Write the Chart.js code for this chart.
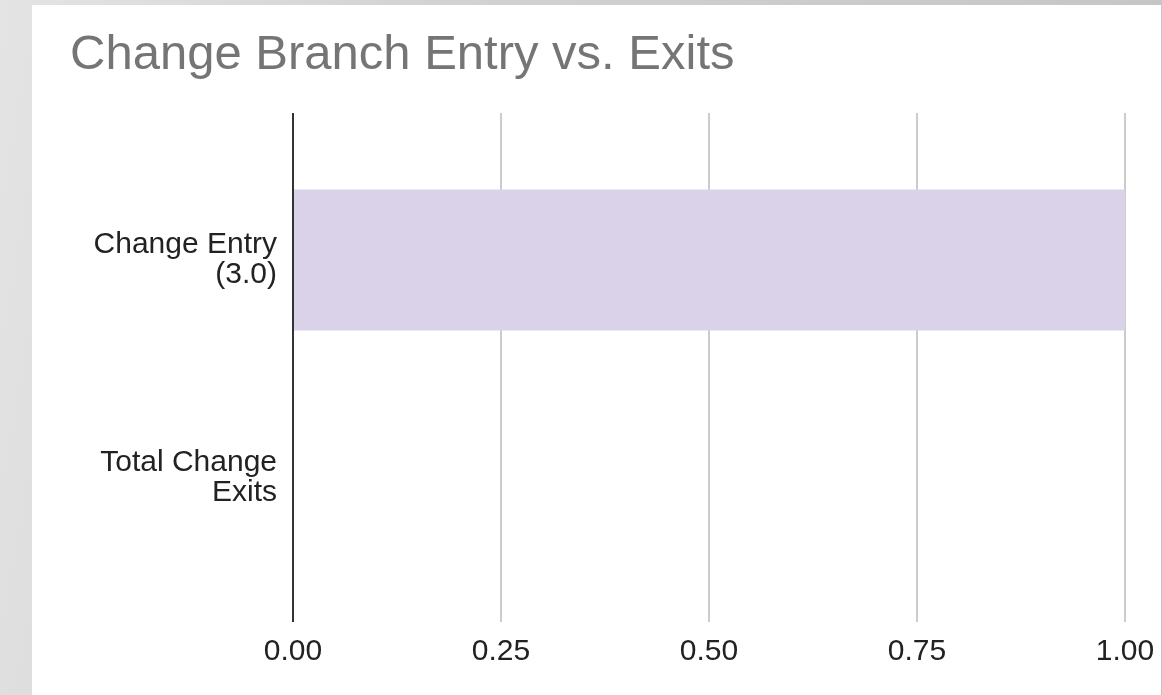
<!DOCTYPE html>
<html>
<head>
<meta charset="utf-8">
<script src="https://cdn.jsdelivr.net/npm/chart.js@4.4.0/dist/chart.umd.min.js"></script>
<style>
    html, body {
        margin: 0;
        padding: 0;
        width: 1162px;
        height: 695px;
        overflow: hidden;
        background: linear-gradient(100deg, #e4e4e4 0%, #d2d2d2 35%, #c4c4c4 100%);
    }
    #panel {
        position: absolute;
        left: 32px;
        top: 5px;
        width: 1129px;
        height: 690px;
        background: #ffffff;
    }
</style>
</head>
<body>
<div id="panel"><canvas id="branchChart"></canvas></div>
<script>
const chartTitle = 'Change Branch Entry vs. Exits';
const categories = [['Change Entry', '(3.0)'], ['Total Change', 'Exits']];
const values = [1, 0];
const xTicks = [0, 0.25, 0.5, 0.75, 1];

document.addEventListener('DOMContentLoaded', function() {
    const fontFamily = 'Arial, "Liberation Sans", sans-serif';
    const gridColor = ctx => (ctx.tick && ctx.tick.value === 0) ? '#333333' : '#cccccc';

    // fixed sizes so the plot area lines up with the picture
    function fitX(height) {
        return scale => {
            scale.height = height;
            scale.paddingLeft = 0;
            scale.paddingRight = 0;
        };
    }

    const ctx = document.getElementById('branchChart').getContext('2d');
    new Chart(ctx, {
        type: 'bar',
        data: {
            labels: categories,
            datasets: [{
                data: values,
                backgroundColor: '#d9d2e9',
                borderWidth: 0,
                categoryPercentage: 1,
                barPercentage: 0.647
            }]
        },
        options: {
            indexAxis: 'y',
            responsive: true,
            maintainAspectRatio: false,
            animation: false,
            layout: { padding: { left: 38, right: 36, top: 0, bottom: 0 } },
            plugins: {
                legend: { display: false },
                tooltip: { enabled: false },
                title: {
                    display: true,
                    text: chartTitle,
                    align: 'start',
                    color: '#757575',
                    font: { family: fontFamily, size: 49, weight: 'normal' },
                    padding: { top: 21, bottom: 28.2 }
                }
            },
            scales: {
                x: {
                    position: 'bottom',
                    min: 0,
                    max: 1,
                    afterBuildTicks: scale => { scale.ticks = xTicks.map(v => ({ value: v })); },
                    afterFit: fitX(108),
                    grid: { color: gridColor, lineWidth: 2, tickLength: 35 },
                    border: { display: false },
                    ticks: {
                        color: '#222222',
                        padding: 12,
                        font: { family: fontFamily, size: 30 },
                        callback: v => Number(v).toFixed(2)
                    }
                },
                xTop: {
                    type: 'linear',
                    axis: 'x',
                    position: 'top',
                    min: 0,
                    max: 1,
                    afterBuildTicks: scale => { scale.ticks = xTicks.map(v => ({ value: v })); },
                    afterFit: fitX(38),
                    grid: { color: gridColor, lineWidth: 2, tickLength: 38, drawOnChartArea: false },
                    border: { display: false },
                    ticks: { display: false }
                },
                y: {
                    afterFit: scale => { scale.width = 223; },
                    grid: { display: false },
                    border: { display: false },
                    ticks: {
                        color: '#222222',
                        padding: 8,
                        font: { family: fontFamily, size: 30, lineHeight: 1.0 }
                    }
                }
            }
        }
    });
});
</script>
</body>
</html>
